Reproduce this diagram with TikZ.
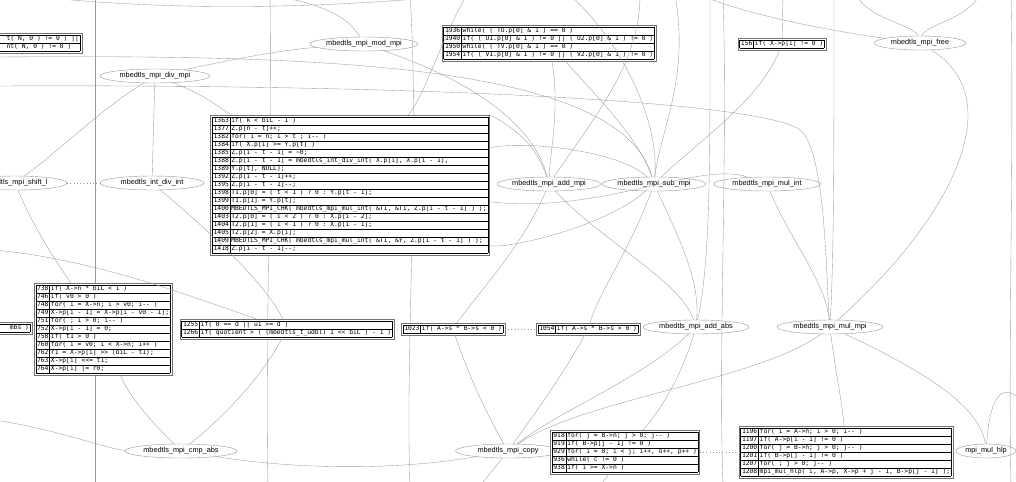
\documentclass[tikz,border=0pt]{standalone}
\usepackage{fontspec}
\setmainfont{Liberation Sans}
\setmonofont{DejaVu Sans Mono}
\usetikzlibrary{shapes.geometric}
\setlength\arrayrulewidth{0.3pt}
\renewcommand\arraystretch{0.8}
\newcommand\rw[2]{\rule[-1.6pt]{0pt}{5.4pt}#1 & #2\\\hline}
\newcommand\codetable[1]{\begin{tabular}{|@{\hspace{0.8pt}}l@{\hspace{0.8pt}}|@{\hspace{0.8pt}}l@{\hspace{0.8pt}}|}\hline #1\end{tabular}}
\newcommand\onecol[1]{\begin{tabular}{|@{\hspace{0.8pt}}l@{\hspace{0.8pt}}|}\hline #1\end{tabular}}
\newcommand\rs{\rule[-1.6pt]{0pt}{5.4pt}}
\begin{document}
\begin{tikzpicture}[x=0.025cm,y=-0.025cm,
  fn/.style={ellipse,draw=black!40,line width=0.3pt,inner sep=0pt,minimum width=#1*0.025cm,minimum height=0.35cm,font=\fontsize{5.2}{6}\selectfont},
  codetab/.style={draw=black!55,line width=0.3pt,inner sep=1.2pt,font=\ttfamily\fontsize{4.5}{5.1}\selectfont,fill=white},
  edge/.style={draw=black!40,line width=0.25pt},
  rankedge/.style={draw=black!42,line width=0.3pt,dotted}]
\useasboundingbox (0,0) rectangle (1016,481);
\clip (0,0) rectangle (1016,481);

% ---------- free ends (off the canvas) ----------
\coordinate (tA) at (20,-5);   \coordinate (tB) at (270,-5);
\coordinate (tC) at (410,-5);  \coordinate (tD) at (467,-5);
\coordinate (tE) at (570,-5);  \coordinate (tF) at (675,-5);
\coordinate (tG) at (710,-5);  \coordinate (tH) at (783,-5);
\coordinate (tI) at (856,-5);  \coordinate (tJ) at (980,-5);
\coordinate (tK) at (1011,-5); \coordinate (tL) at (723,-5);
\coordinate (tM) at (834,-5);  \coordinate (tN) at (95,-5);
\coordinate (tO) at (700,-5);  \coordinate (tP) at (640,-5);
\coordinate (lA) at (-5,57);   \coordinate (lB) at (-5,86);
\coordinate (lC) at (-5,250);  \coordinate (lD) at (-5,420);
\coordinate (rD) at (1021,400);
\coordinate (bA) at (95,486);  \coordinate (bB) at (268,486);
\coordinate (bC) at (410,486); \coordinate (bE) at (723,486);
\coordinate (bF) at (1011,486);\coordinate (bG) at (600,486);
\coordinate (bH) at (480,486);

% ---------- long edges (drawn first, under the nodes) ----------
\draw[edge] (tA) .. controls (200,15) and (350,5) .. (tD);
\draw[edge] (tN) -- (bA);
\draw[edge] (tB) .. controls (272,150) and (265,350) .. (bB);
\draw[edge] (tC) .. controls (420,150) and (405,350) .. (bC);
\draw[edge] (tL) .. controls (728,150) and (718,350) .. (bE);
\draw[edge] (tK) .. controls (1014,150) and (1008,350) .. (bF);

% ---------- function nodes ----------
\node[fn=108] (modmpi) at (364,44) {mbedtls\_mpi\_mod\_mpi};
\node[fn=110] (divmpi) at (155,76) {mbedtls\_mpi\_div\_mpi};
\node[fn=92]  (free)   at (920,43) {mbedtls\_mpi\_free};
\node[fn=104] (shiftl) at (15,183) {mbedtls\_mpi\_shift\_l};
\node[fn=104] (intdiv) at (152,183) {mbedtls\_int\_div\_int};
\node[fn=100] (addmpi) at (549,184) {mbedtls\_mpi\_add\_mpi};
\node[fn=100] (submpi) at (654,184) {mbedtls\_mpi\_sub\_mpi};
\node[fn=107] (mulint) at (767,184) {mbedtls\_mpi\_mul\_int};
\node[fn=106] (addabs) at (696,327) {mbedtls\_mpi\_add\_abs};
\node[fn=106] (mulmpi) at (830,327) {mbedtls\_mpi\_mul\_mpi};
\node[fn=112] (cmpabs) at (181,451) {mbedtls\_mpi\_cmp\_abs};
\node[fn=105] (copy)   at (508,451) {mbedtls\_mpi\_copy};
\node[fn=60]  (mulhlp) at (986,451) {mpi\_mul\_hlp};

% ---------- code tables ----------
\node[codetab,anchor=east] (tl) at (82,43) {\onecol{\rs\hspace*{28pt}t( N, 0 ) != 0 ) ||\\\hline \rs\hspace*{28pt}nt( N, 0 ) != 0 )\\\hline}};
\node[codetab] (t1936) at (549,43) {\codetable{%
\rw{1936}{while( ( TU.p[0] \& 1 ) == 0 )}%
\rw{1940}{if( ( U1.p[0] \& 1 ) != 0 || ( U2.p[0] \& 1 ) != 0 )}%
\rw{1950}{while( ( TV.p[0] \& 1 ) == 0 )}%
\rw{1954}{if( ( V1.p[0] \& 1 ) != 0 || ( V2.p[0] \& 1 ) != 0 )}}};
\node[codetab] (t156) at (782,44) {\codetable{\rw{156}{if( X->p[i] != 0 )}}};
\node[codetab] (t1363) at (350,185) {\codetable{%
\rw{1363}{if( k < biL - 1 )}%
\rw{1377}{Z.p[n - t]++;}%
\rw{1382}{for( i = n; i > t ; i-- )}%
\rw{1384}{if( X.p[i] >= Y.p[t] )}%
\rw{1385}{Z.p[i - t - 1] = \textasciitilde 0;}%
\rw{1388}{Z.p[i - t - 1] = mbedtls\_int\_div\_int( X.p[i], X.p[i - 1],}%
\rw{1389}{Y.p[t], NULL);}%
\rw{1392}{Z.p[i - t - 1]++;}%
\rw{1395}{Z.p[i - t - 1]--;}%
\rw{1398}{T1.p[0] = ( t < 1 ) ? 0 : Y.p[t - 1];}%
\rw{1399}{T1.p[1] = Y.p[t];}%
\rw{1400}{MBEDTLS\_MPI\_CHK( mbedtls\_mpi\_mul\_int( \&T1, \&T1, Z.p[i - t - 1] ) );}%
\rw{1403}{T2.p[0] = ( i < 2 ) ? 0 : X.p[i - 2];}%
\rw{1404}{T2.p[1] = ( i < 1 ) ? 0 : X.p[i - 1];}%
\rw{1405}{T2.p[2] = X.p[i];}%
\rw{1409}{MBEDTLS\_MPI\_CHK( mbedtls\_mpi\_mul\_int( \&T1, \&Y, Z.p[i - t - 1] ) );}%
\rw{1418}{Z.p[i - t - 1]--;}}};
\node[codetab] (t738) at (103,329) {\codetable{%
\rw{738}{if( X->n * biL < i )}%
\rw{746}{if( v0 > 0 )}%
\rw{748}{for( i = X->n; i > v0; i-- )}%
\rw{749}{X->p[i - 1] = X->p[i - v0 - 1];}%
\rw{751}{for( ; i > 0; i-- )}%
\rw{752}{X->p[i - 1] = 0;}%
\rw{758}{if( t1 > 0 )}%
\rw{760}{for( i = v0; i < X->n; i++ )}%
\rw{762}{r1 = X->p[i] >> (biL - t1);}%
\rw{763}{X->p[i] <<= t1;}%
\rw{764}{X->p[i] |= r0;}}};
\node[codetab,anchor=east] (tmbs) at (32,328) {\onecol{\rs\hspace*{20pt}mbs )\\\hline}};
\node[codetab] (t1255) at (287,329) {\codetable{%
\rw{1255}{if( 0 == d || u1 >= d )}%
\rw{1266}{if( quotient > ( (mbedtls\_t\_udbl) 1 << biL ) - 1 )}}};
\node[codetab] (t1023) at (453,329) {\codetable{\rw{1023}{if( A->s * B->s < 0 )}}};
\node[codetab] (t1054) at (588,329) {\codetable{\rw{1054}{if( A->s * B->s > 0 )}}};
\node[codetab] (t918) at (625,452) {\codetable{%
\rw{918}{for( j = B->n; j > 0; j-- )}%
\rw{919}{if( B->p[j - 1] != 0 )}%
\rw{929}{for( i = 0; i < j; i++, o++, p++ )}%
\rw{936}{while( c != 0 )}%
\rw{938}{if( i >= X->n )}}};
\node[codetab] (t1196) at (846,452) {\codetable{%
\rw{1196}{for( i = A->n; i > 0; i-- )}%
\rw{1197}{if( A->p[i - 1] != 0 )}%
\rw{1200}{for( j = B->n; j > 0; j-- )}%
\rw{1201}{if( B->p[j - 1] != 0 )}%
\rw{1207}{for( ; j > 0; j-- )}%
\rw{1208}{mpi\_mul\_hlp( i, A->p, X->p + j - 1, B->p[j - 1] );}}};

% ---------- same-rank dotted edges ----------
\draw[rankedge] (shiftl) -- (intdiv);
\draw[rankedge] (tmbs) -- (t738);
\draw[rankedge] (t1255) -- (t1023);
\draw[rankedge] (t1023) -- (t1054);
\draw[rankedge] (t918) -- (t1196);

% ---------- call edges ----------
\draw[edge] (lA) .. controls (300,55) and (620,60) .. (submpi);
\draw[edge] (lB) .. controls (400,84) and (760,100) .. (800,130) .. controls (826,150) and (826,280) .. (mulmpi);
\draw[edge] (modmpi) .. controls (280,50) and (230,60) .. (divmpi);
\draw[edge] (modmpi) .. controls (440,70) and (530,110) .. (addmpi);
\draw[edge] (modmpi) .. controls (350,20) and (330,5) .. (tB);
\draw[edge] (tD) .. controls (445,30) and (425,95) .. (t1363);
\draw[edge] (divmpi) .. controls (205,95) and (215,105) .. (t1363);
\draw[edge] (divmpi) -- (intdiv);
\draw[edge] (divmpi) .. controls (100,110) and (60,150) .. (shiftl);
\draw[edge] (shiftl) .. controls (35,230) and (55,260) .. (t738);
\draw[edge] (intdiv) .. controls (220,240) and (270,290) .. (t1255);
\draw[edge] (t1363.north east) .. controls (520,130) and (538,150) .. (addmpi);
\draw[edge] (t1363) .. controls (520,140) and (620,150) .. (submpi);
\draw[edge] (t1363) .. controls (600,215) and (700,160) .. (mulint);
\draw[edge] (t1936) .. controls (560,110) and (550,150) .. (addmpi);
\draw[edge] (t1936) .. controls (600,100) and (640,140) .. (submpi);
\draw[edge] (tE) .. controls (620,40) and (660,120) .. (submpi);
\draw[edge] (tF) .. controls (690,80) and (660,130) .. (submpi);
\draw[edge] (tP) .. controls (640,60) and (600,110) .. (addmpi);
\draw[edge] (t156) .. controls (760,100) and (700,140) .. (submpi);
\draw[edge] (tH) -- (t156);
\draw[edge] (tO) .. controls (760,20) and (860,35) .. (free);
\draw[edge] (tI) .. controls (870,20) and (915,25) .. (free);
\draw[edge] (tJ) .. controls (965,20) and (925,25) .. (free);
\draw[edge] (mulmpi) .. controls (950,220) and (1012,100) .. (free);
\draw[edge] (tG) .. controls (710,150) and (711,260) .. (addabs);
\draw[edge] (addmpi) .. controls (520,250) and (480,290) .. (t1023);
\draw[edge] (submpi) .. controls (630,250) and (600,290) .. (t1054);
\draw[edge] (addmpi) .. controls (600,240) and (680,280) .. (addabs);
\draw[edge] (submpi) .. controls (680,240) and (700,280) .. (addabs);
\draw[edge] (submpi) .. controls (600,230) and (500,250) .. (t1363);
\draw[edge] (mulint) .. controls (790,240) and (825,280) .. (mulmpi);
\draw[edge] (tM) .. controls (834,150) and (834,250) .. (mulmpi);
\draw[edge] (mulmpi) .. controls (835,370) and (842,400) .. (t1196);
\draw[edge] (mulmpi) .. controls (900,360) and (980,400) .. (mulhlp);
\draw[edge] (mulmpi) .. controls (760,380) and (580,400) .. (copy);
\draw[edge] (addabs) .. controls (680,380) and (660,410) .. (t918);
\draw[edge] (addabs) .. controls (640,380) and (560,410) .. (copy);
\draw[edge] (t1054) .. controls (560,380) and (530,420) .. (copy);
\draw[edge] (t1023) .. controls (470,380) and (490,420) .. (copy);
\draw[edge] (t738) .. controls (130,400) and (160,430) .. (cmpabs);
\draw[edge] (t1255) .. controls (260,380) and (220,420) .. (cmpabs);
\draw[edge] (cmpabs) .. controls (300,470) and (400,470) .. (copy);
\draw[edge] (mulhlp) .. controls (990,400) and (1000,380) .. (rD);
\draw[edge] (lC) .. controls (100,260) and (200,300) .. (t1255);
\draw[edge] (lD) .. controls (60,430) and (110,450) .. (cmpabs);
\draw[edge] (copy) -- (bH);
\draw[edge] (t918) -- (bG);
\end{tikzpicture}
\end{document}
